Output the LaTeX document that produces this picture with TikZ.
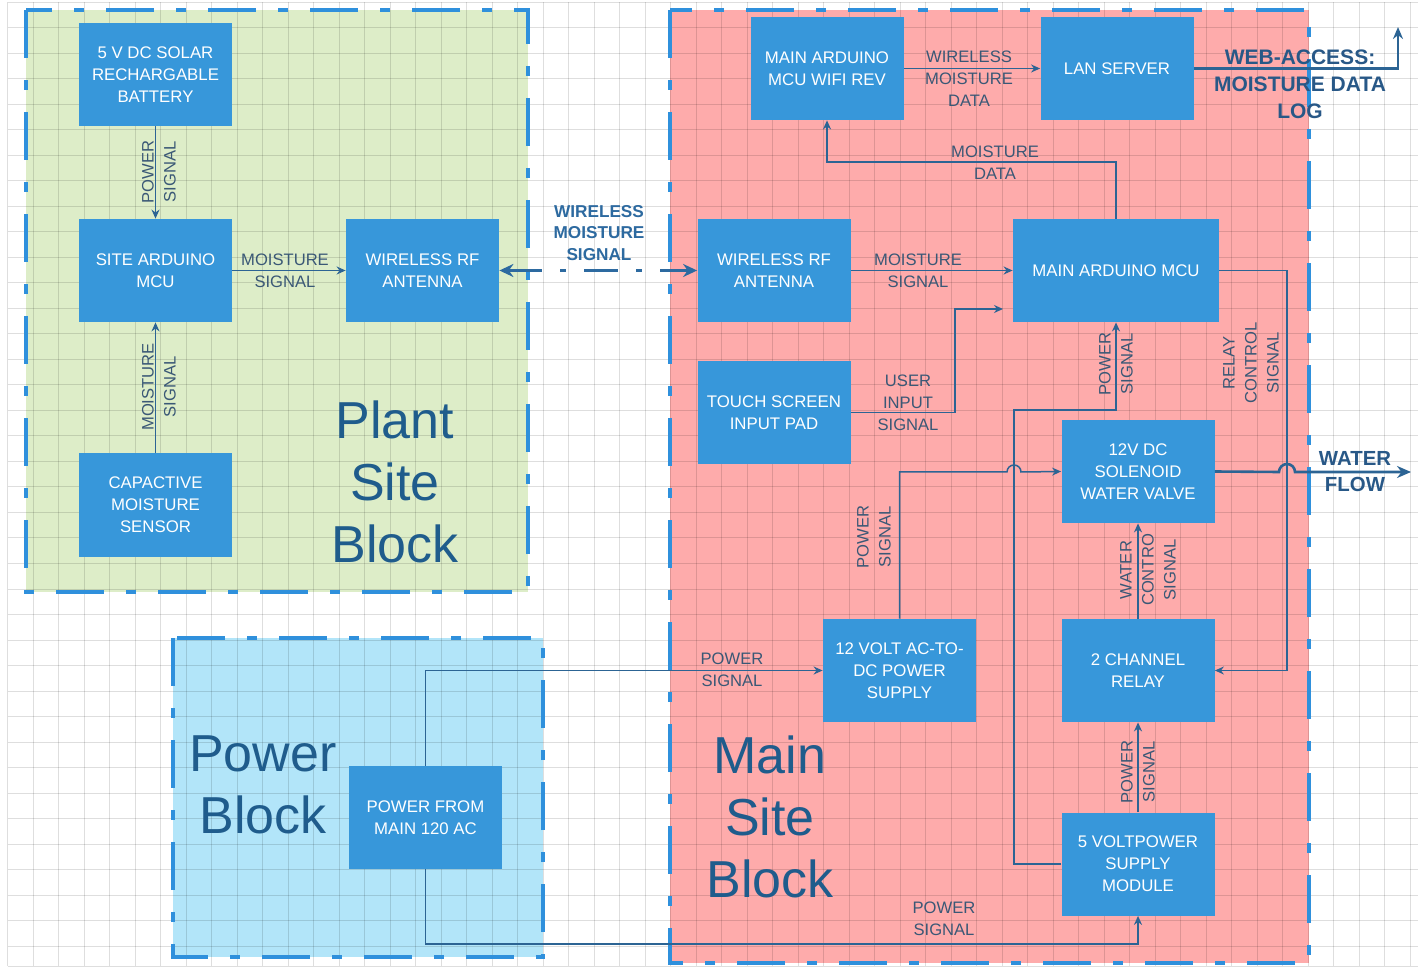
\documentclass[tikz,border=0pt]{standalone}
\usepackage{fontspec}
\setmainfont{Liberation Sans}
\usetikzlibrary{arrows.meta}
\definecolor{boxblue}{RGB}{55,151,218}
\definecolor{edgeblue}{RGB}{47,144,220}
\definecolor{linecol}{RGB}{44,100,148}
\definecolor{labcol}{RGB}{58,88,118}
\definecolor{bigcol}{RGB}{31,92,140}
\definecolor{boldcol}{RGB}{40,88,135}
\definecolor{wlcol}{RGB}{45,106,160}
\definecolor{greenfill}{RGB}{221,237,200}
\definecolor{pinkfill}{RGB}{254,171,171}
\definecolor{bluefill}{RGB}{178,229,249}
\begin{document}
\begin{tikzpicture}[x=0.5pt,y=-0.5pt,
  blk/.style={rectangle, fill=boxblue, text=white, minimum width=76.5pt, minimum height=51.5pt, inner sep=1pt, align=center, font=\fontsize{8.4}{11}\selectfont},
  lab/.style={text=labcol, align=center, font=\fontsize{8.3}{11}\selectfont, inner sep=0pt},
  rlab/.style={lab, rotate=90},
  wire/.style={draw=linecol, line width=0.75pt, -{Stealth[length=4.5pt,width=4pt]}},
  plain/.style={draw=linecol, line width=0.75pt},
  region/.style={draw=edgeblue, line width=2pt, dash pattern=on 24pt off 11pt on 5pt off 11pt},
  big/.style={text=bigcol, align=center, font=\fontsize{26}{31}\selectfont},
  boldlab/.style={text=boldcol, align=center, font=\bfseries\fontsize{10.5}{13.5}\selectfont, inner sep=0pt},
  gridc/.style={draw=black, opacity=0.13, line width=0.5pt}
]
\useasboundingbox (0,0) rectangle (1418,967);
\fill[white] (0,0) rectangle (1418,967);

% block fills
\fill[greenfill] (26,10) rectangle (528,592);
\fill[pinkfill] (670,10) rectangle (1309,963);
\fill[bluefill] (173,638) rectangle (543,957);

% grid
\foreach \i in {0,...,55} {\draw[gridc] ({7.6+\i*25.5},2.5) -- ({7.6+\i*25.5},966);}
\foreach \j in {0,...,37} {\draw[gridc] (7.6,{2.5+\j*25.5}) -- (1418,{2.5+\j*25.5});}
\draw[gridc] (7.6,966) -- (1418,966);

% dashed block borders
\draw[region] (26,10) rectangle (528,592);
\draw[region] (670,10) rectangle (1309,963);
\draw[region] (173,638) rectangle (543,957);

% boxes
\node[blk] (bat) at (155.5,74.5) {5 V DC SOLAR\\RECHARGABLE\\BATTERY};
\node[blk] (smcu) at (155.5,270.5) {SITE ARDUINO\\MCU};
\node[blk] (pant) at (422.5,270.5) {WIRELESS RF\\ANTENNA};
\node[blk] (sens) at (155.5,505) {CAPACTIVE\\MOISTURE\\SENSOR};
\node[blk] (wifi) at (827,68.5) {MAIN ARDUINO\\MCU WIFI REV};
\node[blk] (lan) at (1117,68.5) {LAN SERVER};
\node[blk] (mant) at (774,270.5) {WIRELESS RF\\ANTENNA};
\node[blk, minimum width=103pt] (mmcu) at (1116,270.5) {MAIN ARDUINO MCU};
\node[blk] (touch) at (774,412.5) {TOUCH SCREEN\\INPUT PAD};
\node[blk] (sol) at (1138,471.5) {12V DC\\SOLENOID\\WATER VALVE};
\node[blk] (ps12) at (899.5,670.5) {12 VOLT AC-TO-\\DC POWER\\SUPPLY};
\node[blk] (relay) at (1138,670.5) {2 CHANNEL\\RELAY};
\node[blk] (ps5) at (1138,864) {5 VOLTPOWER\\SUPPLY\\MODULE};
\node[blk] (pwr) at (425.5,817.5) {POWER FROM\\MAIN 120 AC};

% free ends
\coordinate (web) at (1398,27);
\coordinate (flow) at (1411,472);
\coordinate (tin) at (1003,309);

% connectors: plant site
\draw[wire] (bat) -- (smcu);
\draw[wire] (sens) -- (smcu);
\draw[wire] (smcu) -- (pant);
\draw[draw=wlcol, line width=1.5pt, dash pattern=on 17pt off 9pt on 3pt off 9pt,
      {Stealth[length=7pt,width=6.5pt]}-{Stealth[length=7pt,width=6.5pt]}] (pant.east) -- (mant.west);

% main site
\draw[wire] (wifi) -- (lan);
\draw[draw=linecol, line width=1.3pt, -{Stealth[length=6pt,width=5pt]}] (lan.east) -- (web |- lan.east) -- (web);
\draw[wire] (mmcu.north) -- (1116,162) -| (wifi.south);
\draw[wire] (mant) -- (mmcu);
\draw[wire] (touch.east) -- (955,412.5) -- (955,309) -- (tin);
\draw[wire] (ps5.west) -- (1014,864) -- (1014,410) -- (1116,410) -- (mmcu.south);
\draw[wire] (mmcu.east) -- (1287,270.5) -- (1287,670.5) -- (relay.east);
\draw[wire] (ps12.north) -- (899.5,472) -- (1007,472) arc[start angle=180,end angle=360,radius=7] -- (sol.west);
\draw[wire] (relay) -- (sol);
\draw[wire] (ps5) -- (relay);
\draw[draw=linecol, line width=1.3pt, -{Stealth[length=7pt,width=6pt]}] (sol.east) -- (1279,472) arc[start angle=180,end angle=360,radius=8] -- (flow);

% power block
\draw[wire] (pwr.north) -- (425.5,670.5) -- (ps12.west);
\draw[wire] (pwr.south) -- (425.5,944) -| (ps5.south);

% labels
\node[rlab] at (159,172) {POWER\\SIGNAL};
\node[rlab] at (159,387) {MOISTURE\\SIGNAL};
\node[lab] at (285,271) {MOISTURE\\SIGNAL};
\node[boldlab, text=wlcol, font=\bfseries\fontsize{8.6}{10.8}\selectfont] at (599,233) {WIRELESS\\MOISTURE\\SIGNAL};
\node[lab] at (969,79) {WIRELESS\\MOISTURE\\DATA};
\node[boldlab] at (1300,84) {WEB-ACCESS:\\MOISTURE DATA\\LOG};
\node[lab] at (995,163) {MOISTURE\\DATA};
\node[lab] at (918,271) {MOISTURE\\SIGNAL};
\node[lab] at (908,403) {USER\\INPUT\\SIGNAL};
\node[rlab] at (1116,364) {POWER\\SIGNAL};
\node[rlab] at (1251,363) {RELAY\\CONTROL\\SIGNAL};
\node[rlab] at (874,537) {POWER\\SIGNAL};
\node[rlab] at (1148,570) {WATER\\CONTRO\\SIGNAL};
\node[boldlab, font=\bfseries\fontsize{10.2}{13}\selectfont] at (1355,472) {WATER\\FLOW};
\node[rlab] at (1138,772) {POWER\\SIGNAL};
\node[lab] at (732,670) {POWER\\SIGNAL};
\node[lab] at (944,919) {POWER\\SIGNAL};

\node[big] at (395,482) {Plant\\Site\\Block};
\node[big] at (770,817) {Main\\Site\\Block};
\node[big] at (263,785) {Power\\Block};
\end{tikzpicture}
\end{document}
